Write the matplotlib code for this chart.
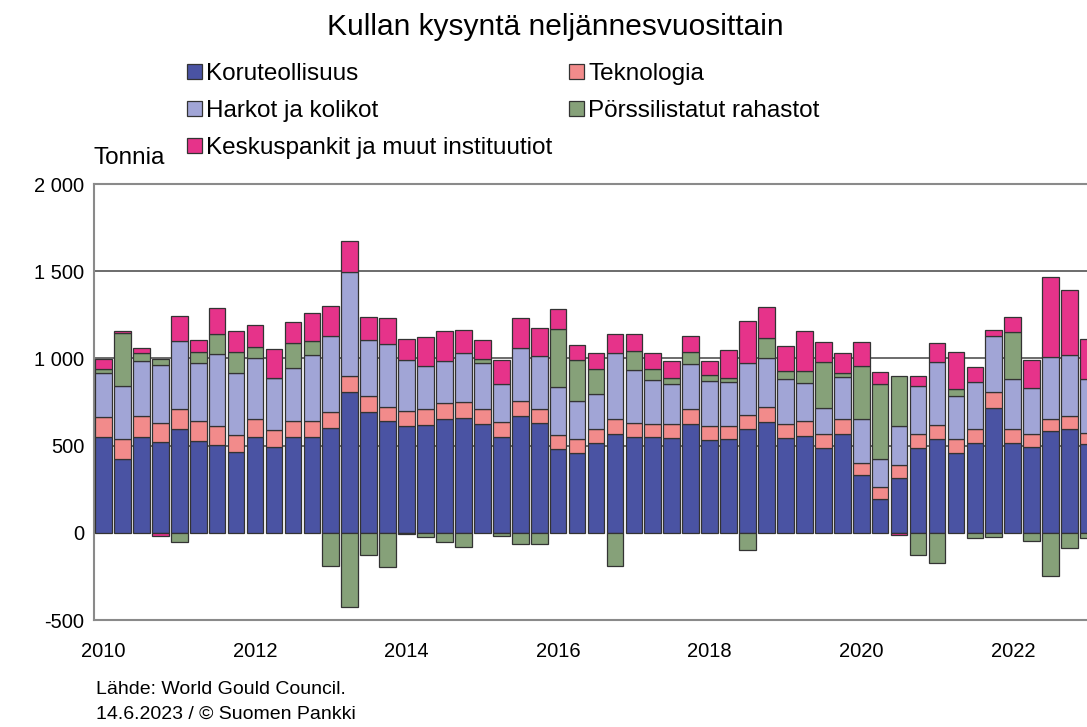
import numpy as np
import matplotlib
matplotlib.use("Agg")
import matplotlib.pyplot as plt
from matplotlib.patches import Patch

plt.rcParams['font.family'] = ['Liberation Sans', 'DejaVu Sans']

# neljännekset 2010Q1 ... 2023Q1
quarters = [f"{y}Q{q}" for y in range(2010, 2024) for q in range(1, 5)][:53]
year_labels = ['2010', '2012', '2014', '2016', '2018', '2020', '2022']

koru = [548, 421, 548, 521, 596, 525, 502, 466, 552, 494, 548, 548,
        600, 805, 694, 640, 613, 619, 651, 657, 625, 552, 672, 630,
        481, 456, 515, 567, 548, 548, 542, 623, 533, 538, 594, 638,
        542, 554, 489, 565, 330, 195, 314, 485, 538, 456, 513, 718,
        513, 490, 581, 598, 508]
tekno = [117, 117, 119, 111, 113, 117, 109, 93, 101, 96, 94, 92,
         90, 92, 88, 84, 86, 88, 92, 92, 84, 86, 83, 81,
         80, 80, 83, 84, 80, 77, 83, 86, 80, 77, 84, 82,
         81, 86, 76, 85, 72, 69, 75, 80, 81, 80, 85, 87,
         85, 77, 74, 73, 67]
harkot = [249, 303, 316, 330, 389, 333, 416, 357, 347, 295, 304, 377,
          438, 597, 323, 359, 293, 247, 240, 282, 264, 217, 305, 301,
          274, 219, 199, 380, 303, 253, 231, 260, 257, 249, 295, 282,
          258, 218, 153, 241, 253, 161, 226, 274, 358, 250, 264, 323,
          285, 266, 351, 346, 306]
etf = [25, 304, 50, 32, -54, 60, 111, 120, 63, 0, 142, 84,
       -192, -425, -125, -195, -8, -23, -50, -84, 25, -19, -65, -65,
       334, 237, 144, -188, 111, 61, 29, 66, 34, 23, -100, 115,
       44, 71, 259, 23, 299, 431, 282, -125, -176, 38, -31, -23,
       268, -48, -245, -88, -27]
cb = [58, 14, 25, -20, 145, 68, 151, 123, 127, 170, 121, 159,
      173, 182, 131, 150, 119, 170, 175, 134, 105, 137, 174, 162,
      114, 87, 88, 109, 96, 93, 98, 92, 79, 159, 240, 178,
      144, 228, 117, 115, 140, 66, -12, 62, 111, 212, 88, 35,
      86, 160, 460, 376, 228]

series = [
    ('Koruteollisuus', koru, '#4a53a3'),
    ('Teknologia', tekno, '#f28b8b'),
    ('Harkot ja kolikot', harkot, '#a1a5d6'),
    ('Pörssilistatut rahastot', etf, '#86a179'),
    ('Keskuspankit ja muut instituutiot', cb, '#e6338a'),
]

fig = plt.figure(figsize=(10.87, 7.27), dpi=100)
ax = fig.add_axes([94 / 1087, 1 - 620 / 727, 1004 / 1087, 436 / 727])

x = np.arange(len(quarters))
pos_bottom = np.zeros(len(x))
neg_bottom = np.zeros(len(x))
for name, vals, col in series:
    v = np.array(vals, dtype=float)
    b = np.where(v >= 0, pos_bottom, neg_bottom)
    ax.bar(x, v, bottom=b, width=0.88, color=col, edgecolor='#333333',
           linewidth=0.9, zorder=3)
    pos_bottom += np.where(v >= 0, v, 0)
    neg_bottom += np.where(v < 0, v, 0)

ax.set_xlim(-0.5, 52.5)
ax.set_ylim(-500, 2000)
ax.set_yticks([-500, 0, 500, 1000, 1500, 2000])
ax.set_yticklabels(['-500', '0', '500', '1 000', '1 500', '2 000'])
ax.set_xticks(np.arange(0, 53, 8))
ax.set_xticklabels(year_labels)
ax.tick_params(axis='both', length=0, labelsize=14.5)
ax.tick_params(axis='y', pad=7)
ax.tick_params(axis='x', pad=16)
for yv in [500, 1000, 1500]:
    ax.axhline(yv, color='#444444', linewidth=1.1, zorder=1)
for s in ['left', 'top', 'bottom']:
    ax.spines[s].set_color('#8a8a8a')
    ax.spines[s].set_linewidth(1.5)
ax.spines['right'].set_visible(False)

fig.text(555 / 1087, 1 - 27 / 727, 'Kullan kysyntä neljännesvuosittain',
         ha='center', va='center', fontsize=21.5)
fig.text(94 / 1087, 1 - 158 / 727, 'Tonnia', ha='left', va='center', fontsize=17.5)

order = [0, 2, 4, 1, 3]
handles = [Patch(facecolor=series[i][2], edgecolor='#333333', linewidth=0.9) for i in order]
labels = [series[i][0] for i in order]
fig.legend(handles, labels, ncol=2, loc='upper left',
           bbox_to_anchor=(187 / 1087, 1 - 63 / 727), frameon=False,
           fontsize=17.5, handlelength=0.6, handleheight=0.6,
           handletextpad=0.18, columnspacing=0.7, labelspacing=0.62,
           borderpad=0, borderaxespad=0)

fig.text(96 / 1087, 1 - 690 / 727, 'Lähde: World Gould Council.',
         ha='left', va='center', fontsize=14)
fig.text(96 / 1087, 1 - 714 / 727, '14.6.2023 / © Suomen Pankki',
         ha='left', va='center', fontsize=14)

fig.savefig('out.png', dpi=100)
